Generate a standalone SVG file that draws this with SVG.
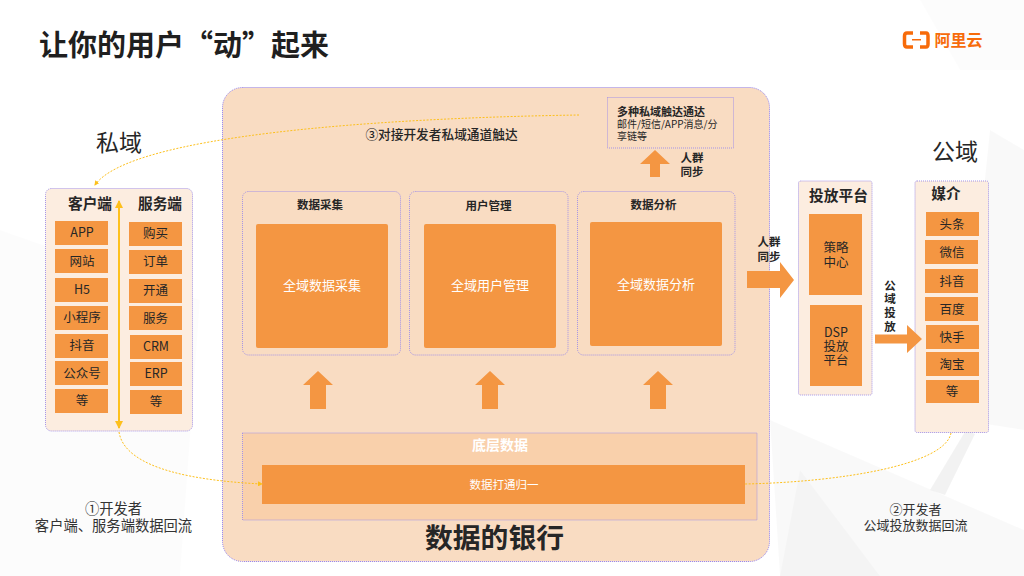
<svg xmlns="http://www.w3.org/2000/svg" width="1024" height="576" viewBox="0 0 1024 576">
<style>
text{font-family:"Noto Sans CJK SC","Liberation Sans",sans-serif;fill:#262626;text-anchor:middle}
.panel{fill:#f9dcc2;stroke:#8f7ff0;stroke-width:1;stroke-dasharray:1 1}
.card{fill:#f9dcc2;stroke:#a493e6;stroke-width:1;stroke-dasharray:1 1}
.light{fill:#fcede0;stroke:#a493e6;stroke-width:1;stroke-dasharray:1 1}
.o{fill:#f49642}
.h{font-size:14.700px;font-weight:700}
.t{font-size:12.500px}
.s{font-size:11.500px;font-weight:700}
.w{fill:#fff;font-size:13px}
.big{font-size:23px}
.note{font-size:13px;fill:#333}
.flow{fill:none;stroke:#fdc01c;stroke-width:1;stroke-dasharray:2 1.500}
.bg{fill:#000}
</style>
<defs>
<marker id="a" markerWidth="5" markerHeight="5" refX="4" refY="2.500" orient="auto"><path d="M0 0L5 2.500L0 5Z" fill="#fdc01c"/></marker>
<marker id="b" markerWidth="4" markerHeight="4" refX="3.500" refY="2" orient="auto-start-reverse"><path d="M0 0L4 2L0 4Z" fill="#fdc01c"/></marker>
<path id="up" d="M0 0L15 14H8V38H-8V14H-15Z" class="o"/>
</defs>
<rect width="1024" height="576" fill="#fff"/>
<g id="background">
<path class="bg" opacity=".012" d="M0 230L200 300L180 576H0Z"/>
<path class="bg" opacity=".025" d="M770 420L1024 530V576H780Z"/>
<path class="bg" opacity=".025" d="M990 130L1024 150V430L960 420Z"/>
<path class="bg" opacity=".012" d="M920 0H1024V70L960 70Z"/>
<path class="bg" opacity=".05" d="M966 430L975 434L945 495L930 490Z"/>
<path class="bg" opacity=".02" d="M800 470L880 576H780Z"/>
</g>
<g id="title"><text x="184" y="56" font-size="29" font-weight="700" style="fill:#1f1f1f">让你的用户“动”起来</text></g>
<g id="logo">
<path d="M913 33H907Q904.500 33 904.500 36V44Q904.500 47 907 47H913M920 33H926Q928 33 928 36V44Q928 47 926 47H920" fill="none" stroke="#f76b0a" stroke-width="3.500"/>
<rect x="912" y="39" width="9" height="1.500" fill="#f76b0a"/>
<text x="958.500" y="46" font-size="16" font-weight="700" style="fill:#f76b0a">阿里云</text>
</g>
<g id="bank">
<rect class="panel" x="222.500" y="87.500" width="547" height="474" rx="20"/>
<text x="494.500" y="548" font-size="27.800" font-weight="700">数据的银行</text>
</g>
<g id="private-label"><text x="119" y="151" class="big">私域</text></g>
<g id="public-label"><text x="955" y="160" class="big">公域</text></g>
<g id="client-server">
<rect class="light" x="45.500" y="188.500" width="147" height="242.500" rx="6"/>
<text x="90" y="209" class="h">客户端</text><text x="160" y="209" class="h">服务端</text>
<g class="o">
<rect x="55" y="221" width="53" height="24"/><rect x="55" y="249" width="53" height="24"/><rect x="55" y="278" width="53" height="24"/><rect x="55" y="306" width="53" height="24"/><rect x="55" y="334" width="53" height="24"/><rect x="55" y="361" width="53" height="24"/><rect x="55" y="389" width="53" height="24"/>
<rect x="129" y="222" width="53" height="24"/><rect x="129" y="250" width="53" height="24"/><rect x="129" y="279" width="53" height="24"/><rect x="129" y="306" width="53" height="24"/><rect x="130" y="335" width="52" height="24"/><rect x="130" y="362" width="52" height="24"/><rect x="130" y="390" width="52" height="24"/>
</g>
<g class="t">
<text x="82" y="237">APP</text><text x="82" y="266">网站</text><text x="82" y="294">H5</text><text x="82" y="322">小程序</text><text x="82" y="350">抖音</text><text x="82" y="378">公众号</text><text x="82" y="405">等</text>
<text x="155.500" y="238">购买</text><text x="155.500" y="266">订单</text><text x="155.500" y="295">开通</text><text x="155.500" y="323">服务</text><text x="156" y="351">CRM</text><text x="156" y="378">ERP</text><text x="156" y="406">等</text>
</g>
</g>
<g id="collect">
<rect class="card" x="242.500" y="191.500" width="158" height="163.500" rx="6"/>
<text x="320" y="209" class="s">数据采集</text>
<rect class="o" x="256" y="224" width="132" height="124" rx="2"/>
<text x="322" y="290" class="w">全域数据采集</text>
</g>
<g id="users">
<rect class="card" x="409.500" y="191.500" width="158.500" height="163.500" rx="6"/>
<text x="488.500" y="210" class="s">用户管理</text>
<rect class="o" x="424" y="224" width="132" height="124" rx="2"/>
<text x="490" y="290" class="w">全域用户管理</text>
</g>
<g id="analysis">
<rect class="card" x="577.500" y="191.500" width="157.500" height="163.500" rx="6"/>
<text x="653.500" y="209" class="s">数据分析</text>
<rect class="o" x="590" y="222" width="132" height="124" rx="2"/>
<text x="656" y="289" class="w">全域数据分析</text>
</g>
<g id="base">
<rect x="242.500" y="433" width="514.500" height="87" fill="#f9d0ab" stroke="#a493e6" stroke-dasharray="1 1"/>
<text x="500" y="450" font-size="14" font-weight="700" style="fill:#fff">底层数据</text>
<rect class="o" x="262" y="465" width="483" height="39"/>
<text x="504" y="489" font-size="11.500" style="fill:#fff">数据打通归一</text>
</g>
<g id="channels">
<rect class="card" x="607.500" y="97.500" width="126" height="50.500"/>
<text x="617" y="116" font-size="11" font-weight="700" style="text-anchor:start">多种私域触达通达</text>
<text x="617" y="128" font-size="10" style="text-anchor:start">邮件/短信/APP消息/分</text>
<text x="617" y="140" font-size="10" style="text-anchor:start">享链等</text>
</g>
<g id="platform">
<rect class="light" x="798.500" y="181" width="73.500" height="214" rx="2"/>
<text x="838.500" y="201" class="h">投放平台</text>
<rect class="o" x="809" y="214" width="53" height="81"/>
<rect class="o" x="810" y="305" width="52" height="81"/>
<text x="836" y="252" class="t">策略</text><text x="836" y="267" class="t">中心</text>
<text x="836" y="337" class="t">DSP</text><text x="836" y="351" class="t">投放</text><text x="836" y="365" class="t">平台</text>
</g>
<g id="media">
<rect class="light" x="915" y="181" width="73.500" height="251.500" rx="2"/>
<text x="946" y="199" class="h">媒介</text>
<g class="o">
<rect x="926" y="212" width="53" height="24"/><rect x="925" y="240" width="53" height="24"/><rect x="925" y="269" width="53" height="24"/><rect x="925" y="297" width="53" height="24"/><rect x="926" y="325" width="53" height="24"/><rect x="926" y="352" width="53" height="24"/><rect x="926" y="380" width="53" height="23"/>
</g>
<g class="t">
<text x="952" y="229">头条</text><text x="952" y="257">微信</text><text x="952" y="286">抖音</text><text x="952" y="314">百度</text><text x="952" y="342">快手</text><text x="952" y="369">淘宝</text><text x="952" y="396">等</text>
</g>
</g>
<g id="connectors">
<path d="M119 201V428" fill="none" stroke="#fdc01c" stroke-width="2" marker-start="url(#b)" marker-end="url(#b)"/>
<path class="flow" marker-end="url(#a)" d="M579 115C380 118 130 135 95 185"/>
<path class="flow" marker-end="url(#a)" d="M119 432C125 470 200 481 262 484"/>
<path class="flow" d="M951 433C945 465 840 482 745 484"/>
<use href="#up" x="318" y="371"/><use href="#up" x="490" y="371"/><use href="#up" x="658" y="371"/>
<path class="o" d="M655 150L670 164H660V177H650V164H640Z"/>
<path class="o" d="M747 271H780V262L794 280L780 298V288H747Z"/>
<path class="o" d="M875 334.500H907V325L922 339L907 353V343.500H875Z"/>
</g>
<g id="labels">
<text x="441.500" y="139" font-size="12.700" font-weight="500">③对接开发者私域通道触达</text>
<text x="692" y="162" class="s">人群</text><text x="692" y="176" class="s">同步</text>
<text x="769" y="246" class="s">人群</text><text x="769" y="261" class="s">同步</text>
<text x="890" y="290" class="s">公</text><text x="890" y="303" class="s">域</text><text x="890" y="317" class="s">投</text><text x="890" y="331" class="s">放</text>
<text x="113.500" y="514" style="font-size:14.300px;fill:#333">①开发者</text><text x="113.500" y="531" style="font-size:14.300px;fill:#333">客户端、服务端数据回流</text>
<text x="915.500" y="514" class="note">②开发者</text><text x="915.500" y="530" class="note">公域投放数据回流</text>
</g>
</svg>
